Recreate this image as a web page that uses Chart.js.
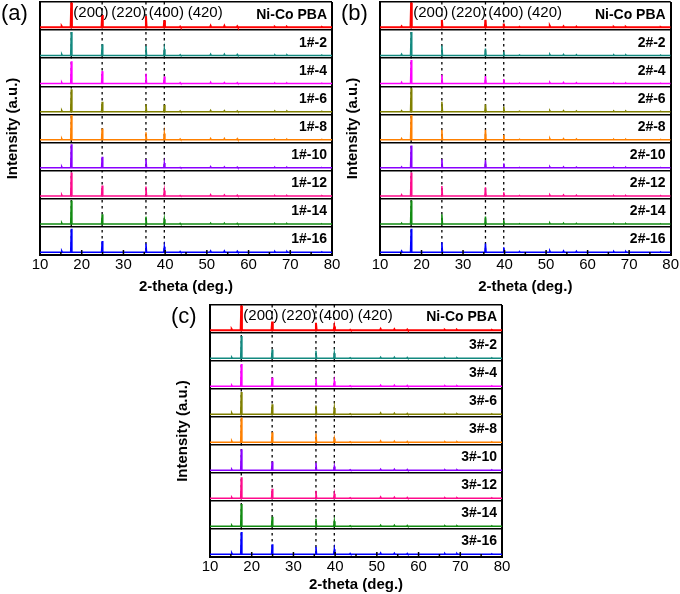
<!DOCTYPE html>
<html>
<head>
<meta charset="utf-8">
<script src="https://cdn.jsdelivr.net/npm/chart.js@4"></script>
<style>
  body { margin: 0; background: #fff; width: 680px; height: 594px; position: relative; overflow: hidden; }
  canvas { position: absolute; }
</style>
</head>
<body>
<canvas id="chartA" width="350" height="297" style="left:0;top:0"></canvas>
<canvas id="chartB" width="340" height="297" style="left:340px;top:0"></canvas>
<canvas id="chartC" width="350" height="304" style="left:170px;top:290px"></canvas>
<script>
// peak positions (2-theta, deg.) shared by all patterns
const twoTheta = [15.2, 17.5, 24.9, 35.4, 39.8, 43.6, 50.9, 54.2, 57.3, 66.3, 69.2, 77.6];
const refLines = [17.5, 24.9, 35.4, 39.8];
const millerLabels = ['(200)', '(220)', '(400)', '(420)'];
const millerPos = [18.0, 27.1, 36.1, 45.4];
const majorTicks = [20, 30, 40, 50, 60, 70];
const minorTicks = [15, 25, 35, 45, 55, 65, 75];

const colors = ['#ff0000', '#138a80', '#ff00ff', '#808000', '#ff8000', '#8a00ff', '#ff0a8c', '#128c12', '#0000ff'];

const namesA = ['Ni-Co PBA', '1#-2', '1#-4', '1#-6', '1#-8', '1#-10', '1#-12', '1#-14', '1#-16'];
const namesB = ['Ni-Co PBA', '2#-2', '2#-4', '2#-6', '2#-8', '2#-10', '2#-12', '2#-14', '2#-16'];
const namesC = ['Ni-Co PBA', '3#-2', '3#-4', '3#-6', '3#-8', '3#-10', '3#-12', '3#-14', '3#-16'];

// peak heights (fraction of the row), one row per pattern, same order as twoTheta
const heightsA = [
  [0.04, 1.00, 0.50, 0.45, 0.28, 0.03, 0.06, 0.06, 0.04, 0.02, 0.02, 0.01],
  [0.05, 0.95, 0.45, 0.38, 0.25, 0.03, 0.05, 0.05, 0.04, 0.02, 0.02, 0.01],
  [0.05, 0.90, 0.50, 0.40, 0.28, 0.03, 0.05, 0.04, 0.03, 0.02, 0.02, 0.01],
  [0.05, 0.90, 0.40, 0.30, 0.28, 0.03, 0.05, 0.04, 0.03, 0.02, 0.02, 0.01],
  [0.05, 1.00, 0.45, 0.30, 0.25, 0.03, 0.05, 0.05, 0.04, 0.02, 0.02, 0.01],
  [0.05, 0.95, 0.45, 0.35, 0.20, 0.02, 0.05, 0.04, 0.03, 0.02, 0.02, 0.01],
  [0.05, 0.95, 0.42, 0.38, 0.22, 0.02, 0.05, 0.04, 0.03, 0.02, 0.02, 0.01],
  [0.05, 0.95, 0.40, 0.30, 0.20, 0.03, 0.04, 0.04, 0.03, 0.02, 0.02, 0.01],
  [0.05, 0.95, 0.45, 0.35, 0.22, 0.03, 0.05, 0.05, 0.04, 0.03, 0.03, 0.01]
];
const heightsB = [
  [0.04, 1.00, 0.30, 0.30, 0.15, 0.02, 0.05, 0.04, 0.03, 0.02, 0.02, 0.01],
  [0.05, 0.95, 0.40, 0.28, 0.15, 0.02, 0.04, 0.04, 0.03, 0.02, 0.02, 0.01],
  [0.05, 0.95, 0.35, 0.30, 0.18, 0.02, 0.04, 0.04, 0.03, 0.02, 0.02, 0.01],
  [0.04, 0.95, 0.40, 0.30, 0.20, 0.02, 0.04, 0.04, 0.03, 0.02, 0.02, 0.01],
  [0.05, 1.00, 0.40, 0.40, 0.20, 0.02, 0.05, 0.04, 0.03, 0.02, 0.02, 0.01],
  [0.04, 0.90, 0.35, 0.30, 0.18, 0.02, 0.04, 0.04, 0.03, 0.02, 0.02, 0.01],
  [0.05, 0.95, 0.40, 0.35, 0.15, 0.02, 0.04, 0.04, 0.03, 0.02, 0.02, 0.01],
  [0.04, 0.95, 0.40, 0.30, 0.15, 0.02, 0.04, 0.04, 0.03, 0.02, 0.02, 0.01],
  [0.05, 0.95, 0.40, 0.35, 0.20, 0.03, 0.05, 0.05, 0.04, 0.03, 0.03, 0.01]
];
const heightsC = [
  [0.04, 1.00, 0.35, 0.30, 0.15, 0.02, 0.05, 0.04, 0.03, 0.02, 0.02, 0.01],
  [0.04, 0.90, 0.35, 0.30, 0.20, 0.02, 0.04, 0.04, 0.03, 0.02, 0.02, 0.01],
  [0.04, 0.90, 0.35, 0.30, 0.20, 0.02, 0.04, 0.04, 0.03, 0.02, 0.02, 0.01],
  [0.05, 0.90, 0.40, 0.35, 0.25, 0.02, 0.05, 0.04, 0.03, 0.02, 0.02, 0.01],
  [0.05, 1.00, 0.40, 0.35, 0.15, 0.02, 0.05, 0.04, 0.03, 0.02, 0.02, 0.01],
  [0.04, 0.85, 0.35, 0.30, 0.15, 0.02, 0.04, 0.04, 0.03, 0.02, 0.02, 0.01],
  [0.04, 0.85, 0.38, 0.30, 0.18, 0.02, 0.05, 0.04, 0.03, 0.02, 0.02, 0.01],
  [0.04, 0.90, 0.38, 0.30, 0.20, 0.02, 0.04, 0.04, 0.03, 0.02, 0.02, 0.01],
  [0.05, 0.90, 0.40, 0.30, 0.20, 0.03, 0.05, 0.04, 0.03, 0.03, 0.03, 0.01]
];

Chart.defaults.font.family = '"Liberation Sans", Arial, sans-serif';
Chart.defaults.color = '#000';

// build one stacked pattern: row 8 is the top one
function pattern(row, heights) {
  const base = row + 0.1;
  const pts = [{ x: 10, y: base }];
  twoTheta.forEach((t, i) => {
    pts.push({ x: t - 0.15, y: base });
    pts.push({ x: t, y: base + heights[i] * 0.88 });
    pts.push({ x: t + 0.15, y: base });
  });
  pts.push({ x: 80, y: base });
  return pts;
}

function decor(letter, names) {
  return {
    id: 'decor',
    beforeDatasetsDraw(chart) {
      const { ctx, chartArea, scales: { x } } = chart;
      ctx.save();
      ctx.strokeStyle = '#000';
      ctx.lineWidth = 1.3;
      ctx.setLineDash([2.5, 3.5]);
      refLines.forEach(v => {
        const px = x.getPixelForValue(v);
        ctx.beginPath();
        ctx.moveTo(px, chartArea.top);
        ctx.lineTo(px, chartArea.bottom);
        ctx.stroke();
      });
      ctx.restore();
    },
    afterDraw(chart) {
      const { ctx, chartArea, scales: { x, y } } = chart;
      ctx.save();
      // inward ticks on the bottom axis
      ctx.strokeStyle = '#000';
      ctx.lineWidth = 1.5;
      majorTicks.forEach(v => {
        const px = x.getPixelForValue(v);
        ctx.beginPath(); ctx.moveTo(px, chartArea.bottom); ctx.lineTo(px, chartArea.bottom - 5); ctx.stroke();
      });
      minorTicks.forEach(v => {
        const px = x.getPixelForValue(v);
        ctx.beginPath(); ctx.moveTo(px, chartArea.bottom); ctx.lineTo(px, chartArea.bottom - 3); ctx.stroke();
      });
      // sample names
      ctx.fillStyle = '#000';
      ctx.font = 'bold 14px "Liberation Sans", Arial, sans-serif';
      ctx.textAlign = 'right';
      ctx.textBaseline = 'middle';
      names.forEach((n, i) => {
        ctx.fillText(n, chartArea.right - 5, y.getPixelForValue(8 - i + 0.55));
      });
      // miller indices
      ctx.font = '15px "Liberation Sans", Arial, sans-serif';
      ctx.textAlign = 'left';
      millerLabels.forEach((m, i) => {
        ctx.fillText(m, x.getPixelForValue(millerPos[i]), y.getPixelForValue(8.63));
      });
      // panel letter
      ctx.font = '22px "Liberation Sans", Arial, sans-serif';
      ctx.fillText(letter, 1, chartArea.top + 12);
      ctx.restore();
    }
  };
}

function makePanel(id, letter, names, heights, pad, xHeight, titlePad) {
  const datasets = names.map((n, i) => ({
    label: n,
    data: pattern(8 - i, heights[i]),
    borderColor: colors[i],
    borderWidth: i === 0 ? 2 : 1.5,
    pointRadius: 0,
    tension: 0
  }));
  new Chart(document.getElementById(id), {
    type: 'line',
    data: { datasets },
    options: {
      responsive: false,
      animation: false,
      layout: { padding: pad },
      plugins: { legend: { display: false }, tooltip: { enabled: false } },
      scales: {
        x: {
          type: 'linear',
          min: 10,
          max: 80,
          afterFit(scale) { scale.height = xHeight; },
          ticks: { stepSize: 10, maxRotation: 0, padding: 1, font: { size: 15 } },
          grid: {
            drawTicks: false,
            lineWidth: 2,
            color: c => (c.tick && c.tick.value === 80 ? '#000' : 'rgba(0,0,0,0)')
          },
          border: { color: '#000', width: 2 },
          title: { display: true, text: '2-theta (deg.)', font: { size: 15, weight: 'bold' }, padding: { top: titlePad, bottom: 0 } }
        },
        y: {
          min: 0,
          max: 9,
          afterFit(scale) { scale.width = 40; },
          ticks: { stepSize: 1, display: false },
          grid: { drawTicks: false, color: '#000', lineWidth: 1.6 },
          border: { color: '#000', width: 2 },
          title: { display: true, text: 'Intensity (a.u.)', font: { size: 15, weight: 'bold' }, padding: { top: 4, bottom: 0 } }
        }
      }
    },
    plugins: [decor(letter, names)]
  });
}

makePanel('chartA', '(a)', namesA, heightsA, { top: 2, right: 18, bottom: 1, left: 0 }, 41, 7);
makePanel('chartB', '(b)', namesB, heightsB, { top: 2, right: 9, bottom: 1, left: 0 }, 41, 7);
makePanel('chartC', '(c)', namesC, heightsC, { top: 15, right: 18, bottom: 0, left: 0 }, 37, 0);
</script>
</body>
</html>
